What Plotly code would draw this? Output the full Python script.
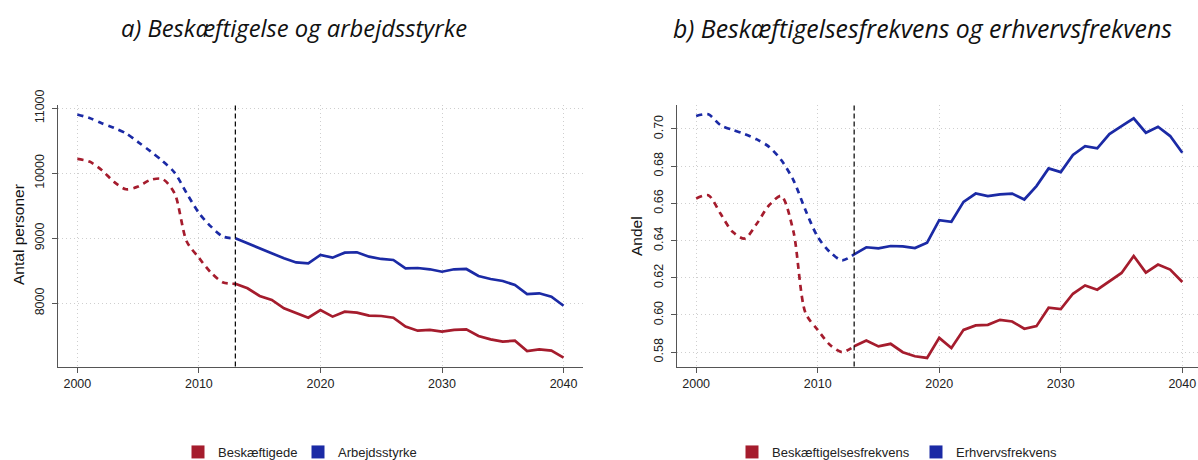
import plotly.graph_objects as go

years = list(range(2000, 2041))
split_year = 2013

# Panel a: Antal personer
beskaeftigede = [10220, 10180, 10050, 9870, 9754, 9795, 9897, 9912, 9692, 8950,
                 8700, 8470, 8320, 8300, 8231, 8113, 8051, 7923, 7854, 7779,
                 7897, 7795, 7872, 7856, 7810, 7805, 7779, 7641, 7579, 7590,
                 7564, 7590, 7600, 7497, 7446, 7410, 7426, 7266, 7292, 7272, 7164]
arbejdsstyrke = [10905, 10850, 10770, 10700, 10615, 10480, 10340, 10190, 10010, 9692,
                 9390, 9179, 9025, 9000, 8923, 8846, 8779, 8692, 8628, 8615,
                 8743, 8702, 8779, 8785, 8717, 8682, 8666, 8538, 8543, 8523,
                 8486, 8523, 8528, 8420, 8374, 8343, 8282, 8143, 8154, 8102, 7963]

# Panel b: Andel
beskaeftigelsesfrekvens = [0.6626, 0.6644, 0.6545, 0.6447, 0.6411, 0.6492, 0.6590, 0.6640, 0.6450, 0.6010,
                           0.5920, 0.5840, 0.5800, 0.5832, 0.5863, 0.5831, 0.5845, 0.5800, 0.5778, 0.5769,
                           0.5877, 0.5822, 0.5920, 0.5944, 0.5947, 0.5974, 0.5965, 0.5926, 0.5940, 0.6039,
                           0.6032, 0.6114, 0.6159, 0.6136, 0.6183, 0.6226, 0.6317, 0.6228, 0.6271, 0.6244, 0.6177]
erhvervsfrekvens = [0.7070, 0.7079, 0.7021, 0.6995, 0.6973, 0.6944, 0.6904, 0.6833, 0.6725, 0.6563,
                    0.6420, 0.6339, 0.6294, 0.6326, 0.6364, 0.6358, 0.6371, 0.6369, 0.6360, 0.6389,
                    0.6510, 0.6501, 0.6608, 0.6653, 0.6639, 0.6648, 0.6653, 0.6621, 0.6693, 0.6788,
                    0.6768, 0.6860, 0.6908, 0.6896, 0.6973, 0.7016, 0.7057, 0.6980, 0.7012, 0.6962, 0.6872]

x_ticks = [2000, 2010, 2020, 2030, 2040]
left_ticks_y = [8000, 9000, 10000, 11000]
left_ticklabels_y = ["8000", "9000", "10000", "11000"]
right_ticks_y = [0.58, 0.60, 0.62, 0.64, 0.66, 0.68, 0.70]
right_ticklabels_y = ["0.58", "0.60", "0.62", "0.64", "0.66", "0.68", "0.70"]

RED = "#A51C2D"
BLUE = "#1B2AA5"

W, H = 1198, 460
def px_x(p):
    return p / W
def px_y(p):
    return (H - p) / H

k = years.index(split_year)
fig = go.Figure()

def add_panel(xa, ya, s1, s2, n1, n2, legend):
    for s, c in ((s1, RED), (s2, BLUE)):
        fig.add_trace(go.Scatter(x=years[:k + 1], y=s[:k + 1], mode="lines",
                                 line=dict(color=c, width=2.7, dash="6px,5px", shape="spline", smoothing=0.8),
                                 xaxis=xa, yaxis=ya, showlegend=False, hoverinfo="skip"))
        fig.add_trace(go.Scatter(x=years[k:], y=s[k:], mode="lines",
                                 line=dict(color=c, width=2.7),
                                 xaxis=xa, yaxis=ya, showlegend=False, hoverinfo="skip"))
    for n, c in ((n1, RED), (n2, BLUE)):
        fig.add_trace(go.Scatter(x=[None], y=[None], mode="markers", name=n,
                                 marker=dict(symbol="square", size=13, color=c),
                                 xaxis=xa, yaxis=ya, legend=legend))

add_panel("x", "y", beskaeftigede, arbejdsstyrke, "Beskæftigede", "Arbejdsstyrke", "legend")
add_panel("x2", "y2", beskaeftigelsesfrekvens, erhvervsfrekvens,
          "Beskæftigelsesfrekvens", "Erhvervsfrekvens", "legend2")

tickfont = dict(family="Liberation Sans, Arial", size=12.5, color="#222")
axis_common = dict(showline=True, linecolor="#555", linewidth=1.3, ticks="outside",
                   ticklen=5, tickcolor="#555", tickwidth=1, showgrid=True,
                   gridcolor="#cfcfcf", griddash="1px,3px", gridwidth=1, zeroline=False,
                   tickfont=tickfont, mirror=False, automargin=False)

ytop, ybot = 105, 366.5
legend_font = dict(family="Liberation Sans, Arial", size=13, color="#222")
fig.update_layout(
    width=W, height=H, margin=dict(l=0, r=0, t=0, b=0, autoexpand=False),
    paper_bgcolor="white", plot_bgcolor="white",
    xaxis=dict(domain=[px_x(58), px_x(583)], range=[1998.41, 2041.6], tickvals=x_ticks,
               anchor="y", **axis_common),
    yaxis=dict(domain=[px_y(ybot), px_y(ytop)], range=[7028, 11050], tickvals=left_ticks_y,
               ticktext=left_ticklabels_y, tickangle=-90, anchor="x", ticklabelstandoff=3,
               **axis_common),
    xaxis2=dict(domain=[px_x(676.7), 1.0], range=[1998.4, 2041.29], tickvals=x_ticks,
                anchor="y2", **axis_common),
    yaxis2=dict(domain=[px_y(ybot), px_y(ytop)], range=[0.5723, 0.7129], tickvals=right_ticks_y,
                ticktext=right_ticklabels_y, tickangle=-90, anchor="x2", ticklabelstandoff=3,
                **axis_common),
    legend=dict(orientation="h", x=px_x(178), y=px_y(452), xanchor="left", yanchor="middle",
                font=legend_font, bgcolor="rgba(0,0,0,0)", itemclick=False,
                entrywidthmode="pixels", entrywidth=75),
    legend2=dict(orientation="h", x=px_x(732), y=px_y(452), xanchor="left", yanchor="middle",
                 font=legend_font, bgcolor="rgba(0,0,0,0)", itemclick=False,
                 entrywidthmode="pixels", entrywidth=139),
    shapes=[
        dict(type="line", xref="x", yref="paper", x0=split_year, x1=split_year,
             y0=px_y(ybot), y1=px_y(ytop), line=dict(color="black", width=1.2, dash="5px,3px")),
        dict(type="line", xref="x2", yref="paper", x0=split_year, x1=split_year,
             y0=px_y(ybot), y1=px_y(ytop), line=dict(color="black", width=1.2, dash="5px,3px")),
    ],
    annotations=[
        dict(text="<i>a) Beskæftigelse og arbejdsstyrke</i>", x=px_x(293.5), y=px_y(28),
             xref="paper", yref="paper", showarrow=False, xanchor="center", yanchor="middle",
             font=dict(family="Open Sans", size=23.8, color="#111")),
        dict(text="<i>b) Beskæftigelsesfrekvens og erhvervsfrekvens</i>", x=px_x(922), y=px_y(28),
             xref="paper", yref="paper", showarrow=False, xanchor="center", yanchor="middle",
             font=dict(family="Open Sans", size=24.8, color="#111")),
        dict(text="Antal personer", x=px_x(18), y=px_y(235), xref="paper", yref="paper",
             showarrow=False, textangle=-90, xanchor="center", yanchor="middle",
             font=dict(family="Liberation Sans, Arial", size=15.5, color="#111")),
        dict(text="Andel", x=px_x(637), y=px_y(236), xref="paper", yref="paper",
             showarrow=False, textangle=-90, xanchor="center", yanchor="middle",
             font=dict(family="Liberation Sans, Arial", size=15.5, color="#111")),
    ],
)

fig.write_html("out.html", config={"displayModeBar": False},
               post_script="document.body.style.margin='0px';document.body.style.overflow='hidden';")
